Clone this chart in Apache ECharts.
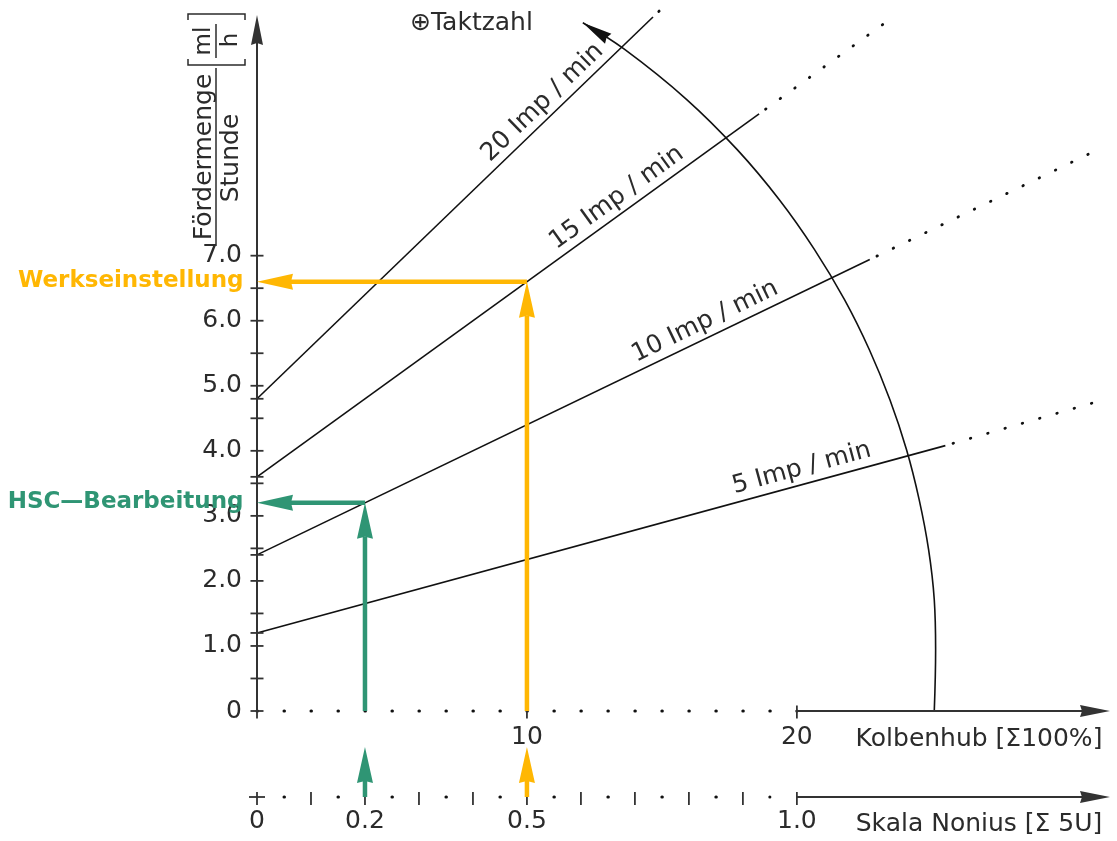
<!DOCTYPE html>
<html>
<head>
<meta charset="utf-8">
<script src="https://cdn.jsdelivr.net/npm/echarts@6/dist/echarts.min.js"></script>
<style>
  html, body { margin: 0; padding: 0; background: #fff; }
  #chart { width: 1117px; height: 841px; }
</style>
</head>
<body>
<div id="chart"></div>
<script>
// Kennlinien Fördermenge je Taktzahl
const impNames = ['5 Imp / min', '10 Imp / min', '15 Imp / min', '20 Imp / min'];
const impSolid = [
  [[0, 1.2], [25.5, 4.08]],
  [[0, 2.4], [22.7, 6.94]],
  [[0, 3.6], [18.6, 9.18]],
  [[0, 4.8], [14.67, 10.67]]
];
const impDotted = [
  [[25.5, 4.08], [31.0, 4.74]],
  [[22.7, 6.94], [31.3, 8.66]],
  [[18.6, 9.18], [23.7, 10.71]],
  [[14.67, 10.67], [15.0, 10.8]]
];
const impLabelX = [20.3, 16.8, 13.6, 10.9];

// Taktzahl-Bogen
const arcPoints = [
  [25.09, 0], [25.14, 0.94], [25.09, 1.71], [24.88, 2.48], [24.53, 3.25],
  [24.06, 4.02], [23.45, 4.78], [22.69, 5.55], [21.77, 6.32], [20.66, 7.09],
  [19.35, 7.86], [17.79, 8.63], [15.92, 9.40], [13.62, 10.17], [12.07, 10.58]
];
const arcHeadFrom = [12.99, 10.34];

// Einstellpunkte
const settingNames = ['Werkseinstellung', 'HSC\u2014Bearbeitung'];
const settingHub = [10, 4];
const settingMenge = [6.6, 3.2];
const settingNonius = [0.5, 0.2];

// Achsen
const yMax = 10.7;
const yTicks = [0, 0.5, 1, 1.5, 2, 2.5, 3, 3.5, 4, 4.5, 5, 5.5, 6, 6.5, 7];
const yInterceptTicks = [1.2, 2.4, 3.6, 4.8];
const hubMax = 31.6;
const hubTicks = [0, 10, 20];
const hubLabels = [10, 20];
const hubDotted = [0, 20];
const noniusMax = 1.58;
const noniusTicks = [0, 0.1, 0.2, 0.3, 0.4, 0.5, 0.6, 0.7, 0.8, 0.9, 1.0];
const noniusLabels = ['0', '0.2', '0.5', '1.0'];
const noniusDotted = [0.05, 0.95];
const noniusArrowTip = 0.833;

const FONT = 'DejaVu Sans';
const TEXT = '#2b2b2b';
const INK = '#111';
const AXIS = '#333';
const ORANGE = '#FFB703';
const GREEN = '#2F9574';

var myChart = echarts.init(document.getElementById('chart'));

function arrowSeries(id, gridIndex, data, st) {
  return {
    id: id,
    type: 'custom',
    xAxisIndex: gridIndex,
    yAxisIndex: gridIndex,
    clip: false,
    silent: true,
    z: st.z,
    data: data,
    renderItem: function (params, api) {
      var a = api.coord([api.value(0), api.value(1)]);
      var b = api.coord([api.value(2), api.value(3)]);
      var dx = b[0] - a[0], dy = b[1] - a[1];
      var len = Math.sqrt(dx * dx + dy * dy);
      var ux = dx / len, uy = dy / len;
      var bx = b[0] - ux * st.head, by = b[1] - uy * st.head;
      var nx = -uy * st.headW / 2, ny = ux * st.headW / 2;
      var children = [];
      if (len > st.head) {
        children.push({
          type: 'line',
          shape: { x1: a[0], y1: a[1], x2: bx + ux * 2, y2: by + uy * 2 },
          style: { stroke: st.color, lineWidth: st.width }
        });
      }
      children.push({
        type: 'polygon',
        shape: { points: [[b[0], b[1]], [bx + nx, by + ny], [bx + ux * 2, by + uy * 2], [bx - nx, by - ny]] },
        style: { fill: st.color }
      });
      return { type: 'group', children: children };
    }
  };
}

function yOnLine(i, x) {
  var s = impSolid[i];
  var t = (x - s[0][0]) / (s[1][0] - s[0][0]);
  return s[0][1] + t * (s[1][1] - s[0][1]);
}

var series = [];

// Kennlinien
impSolid.forEach(function (seg) {
  series.push({
    type: 'line', data: seg, symbol: 'none', silent: true, clip: false, z: 3,
    lineStyle: { color: INK, width: 1.6 }
  });
});
impDotted.forEach(function (seg) {
  series.push({
    type: 'line', data: seg, symbol: 'none', silent: true, clip: false, z: 3,
    lineStyle: { color: INK, width: 2.8, type: [0.5, 17.5], dashOffset: 10, cap: 'round' }
  });
});

// Taktzahl-Bogen
series.push({
  type: 'line', data: arcPoints, symbol: 'none', smooth: 0.4, silent: true, clip: false, z: 3,
  lineStyle: { color: INK, width: 1.6 }
});
series.push(arrowSeries('arcHead', 0, [[arcHeadFrom[0], arcHeadFrom[1], arcPoints[arcPoints.length - 1][0], arcPoints[arcPoints.length - 1][1]]],
  { color: INK, width: 1.6, head: 30, headW: 12, z: 4 }));

// Achsen (Linien + Pfeile)
series.push(arrowSeries('axes0', 0, [[0, 0, 0, yMax], [hubDotted[1], 0, hubMax, 0]],
  { color: AXIS, width: 2, head: 30, headW: 12, z: 4 }));
series.push(arrowSeries('axes1', 1, [[1.0, 0, noniusMax, 0]],
  { color: AXIS, width: 2, head: 30, headW: 12, z: 4 }));
series.push({
  type: 'line', data: [[hubDotted[0], 0], [hubDotted[1], 0]], symbol: 'none', silent: true, clip: false, z: 3,
  lineStyle: { color: INK, width: 3, type: [0.5, 26.49], cap: 'round' }
});
series.push({
  type: 'line', xAxisIndex: 1, yAxisIndex: 1, data: [[noniusDotted[0], 0], [noniusDotted[1], 0]],
  symbol: 'none', silent: true, clip: false, z: 3,
  lineStyle: { color: INK, width: 3, type: [0.5, 53.48], cap: 'round' }
});

// Teilstriche
var tickItem = { color: AXIS, opacity: 1 };
series.push({
  type: 'scatter', symbol: 'rect', symbolSize: [13, 1.8], clip: false, silent: true, z: 4,
  data: yTicks.concat(yInterceptTicks).map(function (v) { return [0, v]; }),
  itemStyle: tickItem
});
series.push({
  type: 'scatter', symbol: 'rect', symbolSize: [1.8, 13], symbolOffset: [0, 1], clip: false, silent: true, z: 4,
  data: hubTicks.map(function (v) { return [v, 0]; }),
  itemStyle: tickItem
});
series.push({
  type: 'scatter', xAxisIndex: 1, yAxisIndex: 1, symbol: 'rect', symbolSize: [1.8, 13], symbolOffset: [0, 1.5],
  clip: false, silent: true, z: 4,
  data: noniusTicks.map(function (v) { return [v, 0]; }),
  itemStyle: tickItem
});
series.push({
  type: 'scatter', xAxisIndex: 1, yAxisIndex: 1, symbol: 'rect', symbolSize: [16, 1.8],
  clip: false, silent: true, z: 4,
  data: [[noniusTicks[0], 0]],
  itemStyle: tickItem
});

// Einstellpfeile
var settingColors = [ORANGE, GREEN];
settingNames.forEach(function (name, i) {
  var st = { color: settingColors[i], width: 4.5, head: 36, headW: 16, z: 6 };
  series.push(arrowSeries('set' + i, 0, [
    [settingHub[i], 0, settingHub[i], settingMenge[i]],
    [settingHub[i], settingMenge[i], 0, settingMenge[i]]
  ], st));
  series.push(arrowSeries('setN' + i, 1, [[settingNonius[i], 0, settingNonius[i], noniusArrowTip]], st));
  series.push({
    type: 'scatter', symbolSize: 1, clip: false, silent: true, z: 6,
    data: [[0, settingMenge[i]]],
    itemStyle: { color: 'rgba(0,0,0,0)', opacity: 1 },
    label: {
      show: true, position: 'left', distance: 13, offset: [0, -1],
      formatter: name, fontFamily: FONT, fontWeight: 'bold', fontSize: 23, color: settingColors[i]
    }
  });
});

// Beschriftung der Kennlinien
series.push({
  id: 'impLabels', type: 'scatter', symbolSize: 1, clip: false, silent: true, z: 5,
  itemStyle: { color: 'rgba(0,0,0,0)', opacity: 1 },
  data: impLabelX.map(function (x, i) { return [x, yOnLine(i, x)]; }),
  label: {
    show: true, position: 'top', distance: 3, fontFamily: FONT, fontSize: 25, color: TEXT,
    formatter: function (p) { return impNames[p.dataIndex]; }
  }
});

var labelStyle = { fontFamily: FONT, fontSize: 25, color: TEXT };
function rotText(x, y, text, size) {
  return {
    type: 'text', x: x, y: y, rotation: Math.PI / 2,
    style: { text: text, fontFamily: FONT, fontSize: size, fill: TEXT, align: 'center', textAlign: 'center', verticalAlign: 'middle', textVerticalAlign: 'middle' }
  };
}

var option = {
  animation: false,
  backgroundColor: '#fff',
  grid: [
    { left: 257, right: 7, top: 15, bottom: 130 },
    { left: 257, right: 7, top: 737, bottom: 44 }
  ],
  xAxis: [
    {
      gridIndex: 0, type: 'value', min: 0, max: hubMax, interval: 10,
      axisLine: { show: false }, axisTick: { show: false }, splitLine: { show: false },
      axisLabel: Object.assign({
        margin: 14, showMaxLabel: false,
        formatter: function (v) { return hubLabels.indexOf(v) >= 0 ? String(v) : ''; }
      }, labelStyle)
    },
    {
      gridIndex: 1, type: 'value', min: 0, max: noniusMax, interval: 0.1,
      axisLine: { show: false }, axisTick: { show: false }, splitLine: { show: false },
      axisLabel: Object.assign({
        margin: 12, showMaxLabel: false,
        formatter: function (v) { var s = v === 0 ? '0' : v.toFixed(1); return noniusLabels.indexOf(s) >= 0 ? s : ''; }
      }, labelStyle)
    }
  ],
  yAxis: [
    {
      gridIndex: 0, type: 'value', min: 0, max: yMax, interval: 1,
      axisLine: { show: false }, axisTick: { show: false }, splitLine: { show: false },
      axisLabel: Object.assign({
        margin: 15, showMaxLabel: false,
        formatter: function (v) { return v > 7 ? '' : (v === 0 ? '0' : v.toFixed(1)); }
      }, labelStyle)
    },
    { gridIndex: 1, type: 'value', min: 0, max: 1, show: false }
  ],
  graphic: [
    { type: 'text', x: 410, y: 23, style: { text: '\u2295Taktzahl', fontFamily: FONT, fontSize: 25, fill: TEXT, verticalAlign: 'middle', textVerticalAlign: 'middle' } },
    { type: 'text', x: 979, y: 739, style: { text: 'Kolbenhub [\u03A3100%]', fontFamily: FONT, fontSize: 25, fill: TEXT, align: 'center', textAlign: 'center', verticalAlign: 'middle', textVerticalAlign: 'middle' } },
    { type: 'text', x: 979, y: 824, style: { text: 'Skala Nonius [\u03A3 5U]', fontFamily: FONT, fontSize: 25, fill: TEXT, align: 'center', textAlign: 'center', verticalAlign: 'middle', textVerticalAlign: 'middle' } },
    // Achsentitel y (gedreht)
    rotText(204, 157, 'Fördermenge', 25),
    rotText(231, 158, 'Stunde', 25),
    { type: 'line', shape: { x1: 216, y1: 68, x2: 216, y2: 246 }, style: { stroke: TEXT, lineWidth: 1.5 } },
    rotText(204, 41, 'ml', 23),
    rotText(231, 40, 'h', 23),
    { type: 'line', shape: { x1: 216, y1: 24, x2: 216, y2: 58 }, style: { stroke: TEXT, lineWidth: 1.5 } },
    { type: 'polyline', shape: { points: [[188, 59], [188, 65], [245, 65], [245, 59]] }, style: { stroke: TEXT, lineWidth: 1.5, fill: null } },
    { type: 'polyline', shape: { points: [[188, 20], [188, 14], [245, 14], [245, 20]] }, style: { stroke: TEXT, lineWidth: 1.5, fill: null } }
  ],
  series: series
};

myChart.setOption(option);

// Drehwinkel der Beschriftungen aus den Pixelkoordinaten
var angles = impSolid.map(function (seg) {
  var p0 = myChart.convertToPixel({ gridIndex: 0 }, seg[0]);
  var p1 = myChart.convertToPixel({ gridIndex: 0 }, seg[1]);
  return Math.atan2(p0[1] - p1[1], p1[0] - p0[0]) * 180 / Math.PI;
});
myChart.setOption({
  series: [{
    id: 'impLabels',
    data: impLabelX.map(function (x, i) {
      return { value: [x, yOnLine(i, x)], label: { rotate: angles[i] } };
    })
  }]
});
</script>
</body>
</html>
